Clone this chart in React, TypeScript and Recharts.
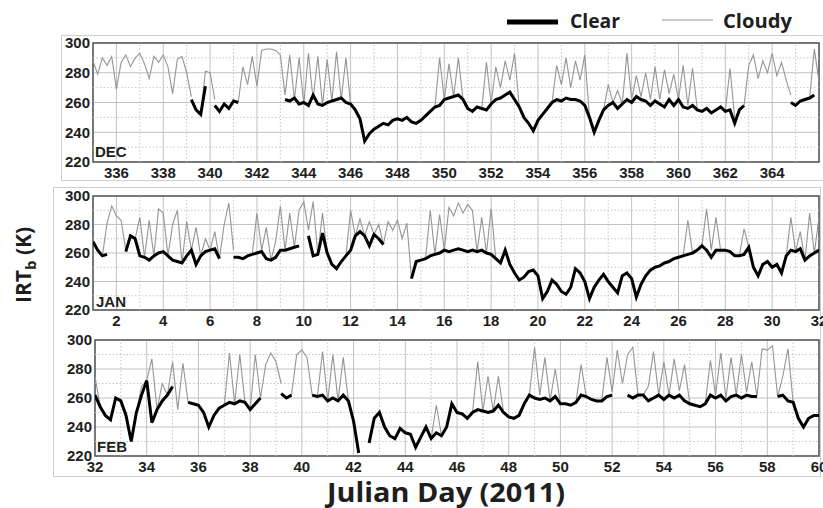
import React from 'react';
import { LineChart, Line, XAxis, YAxis, CartesianGrid, ReferenceLine, ReferenceArea } from 'recharts';

const _ = null;
const STEP = 0.2; // days between samples

// ---------- DEC (day 335.0 .. 366.0) ----------
const decStart = 335;
const decClear = [
  _, _, _, _, _, // 335
  _, _, _, _, _, // 336
  _, _, _, _, _, // 337
  _, _, _, _, _, // 338
  _, 262, 255, 252, 271, // 339
  _, 258, 254, 259, 256, // 340
  261, 260, _, _, _, // 341
  _, _, _, _, _, // 342
  _, 262, 261, 263, 259, // 343
  260, 258, 265, 259, 258, // 344
  260, 261, 262, 263, 260, // 345
  259, 255, 249, 234, 239, // 346
  242, 244, 246, 245, 248, // 347
  249, 248, 250, 247, 246, // 348
  248, 251, 254, 257, 258, // 349
  262, 263, 264, 265, 262, // 350
  256, 254, 257, 256, 255, // 351
  259, 262, 263, 265, 267, // 352
  262, 257, 250, 246, 241, // 353
  248, 252, 256, 260, 262, // 354
  261, 263, 262, 262, 261, // 355
  258, 250, 240, 248, 255, // 356
  258, 260, 256, 259, 262, // 357
  260, 264, 262, 261, 258, // 358
  261, 259, 257, 262, 258, // 359
  262, 257, 256, 258, 255, // 360
  254, 256, 253, 255, 257, // 361
  254, 255, 246, 255, 258, // 362
  _, _, _, _, _, // 363
  _, _, _, _, 260, // 364
  258, 261, 262, 263, 265, // 365
  _, // 366
];
const decCloudy = [
  288, 279, 290, 285, 291, // 335
  269, 287, 292, 284, 290, // 336
  293, 286, 276, 291, 287, // 337
  292, 284, 266, 289, 291, // 338
  280, 264, _, 252, 281, // 339
  280, 262, _, _, _, // 340
  _, 260, 284, 272, 291, // 341
  271, 295, 296, 296, 295, // 342
  292, 265, 292, 262, 290, // 343
  259, 293, 262, 291, 258, // 344
  289, 261, 294, 262, 290, // 345
  259, _, _, _, _, // 346
  _, _, _, _, _, // 347
  _, _, _, _, _, // 348
  _, _, _, 257, 290, // 349
  262, 286, 264, 290, 262, // 350
  _, _, _, 256, 287, // 351
  259, 284, 270, 288, 275, // 352
  293, 257, _, _, _, // 353
  _, _, _, 260, 285, // 354
  272, 290, 270, 288, 275, // 355
  292, 250, _, _, 255, // 356
  272, 260, 268, 259, 293, // 357
  262, 278, 264, 280, 262, // 358
  284, 262, 282, 266, 279, // 359
  262, 285, 258, 283, 256, // 360
  _, _, _, _, _, // 361
  254, 283, 250, _, 258, // 362
  285, 292, 276, 288, 280, // 363
  293, 278, 287, 275, 265, // 364
  _, _, _, 263, 296, // 365
  274, // 366
];

// ---------- JAN (day 1.0 .. 32.0) ----------
const janStart = 1;
const janClear = [
  268, 262, 258, 259, _, // 1
  _, _, 261, 272, 270, // 2
  258, 257, 255, 258, 260, // 3
  261, 258, 255, 254, 253, // 4
  258, 262, 252, 258, 261, // 5
  262, 263, 256, _, _, // 6
  257, 257, 256, 258, 259, // 7
  260, 261, 256, 255, 257, // 8
  262, 262, 263, 264, 265, // 9
  _, 272, 258, 259, 274, // 10
  260, 252, 249, 254, 258, // 11
  262, 272, 275, 272, 265, // 12
  273, 270, 266, _, _, // 13
  _, _, _, 242, 254, // 14
  255, 256, 258, 259, 260, // 15
  262, 261, 262, 263, 262, // 16
  261, 262, 261, 262, 260, // 17
  259, 256, 253, 262, 252, // 18
  246, 241, 243, 247, 248, // 19
  244, 228, 233, 241, 238, // 20
  233, 231, 236, 249, 246, // 21
  240, 228, 236, 241, 245, // 22
  240, 236, 232, 244, 246, // 23
  242, 229, 238, 244, 248, // 24
  250, 251, 253, 254, 256, // 25
  257, 258, 259, 260, 262, // 26
  265, 262, 257, 262, 262, // 27
  262, 261, 258, 258, 259, // 28
  264, 250, 244, 252, 254, // 29
  250, 252, 246, 258, 262, // 30
  261, 263, 255, 258, 260, // 31
  262, // 32
];
const janCloudy = [
  _, _, 258, 281, 293, // 1
  286, 283, 262, _, 270, // 2
  285, 257, 283, 258, 291, // 3
  288, 258, 280, 290, 253, // 4
  282, 262, 278, 258, 270, // 5
  262, 275, 256, 280, 295, // 6
  262, _, _, _, 259, // 7
  288, 262, 278, 255, 268, // 8
  293, 262, 288, 264, 290, // 9
  296, 276, 296, 259, 288, // 10
  260, _, _, _, 258, // 11
  290, 272, 284, 272, 282, // 12
  273, 280, 266, 282, 276, // 13
  283, 270, 281, 242, _, // 14
  _, 256, 290, 259, 287, // 15
  262, 292, 286, 295, 288, // 16
  294, 290, 261, 285, 260, // 17
  291, 256, _, _, _, // 18
  _, _, _, _, _, // 19
  _, _, _, _, _, // 20
  _, _, _, _, _, // 21
  _, _, _, _, _, // 22
  _, _, _, _, _, // 23
  _, _, _, _, _, // 24
  _, _, _, _, _, // 25
  _, 258, 283, 260, _, // 26
  265, 291, 262, 285, 262, // 27
  _, _, _, 258, 277, // 28
  264, _, _, _, _, // 29
  _, _, _, 258, 285, // 30
  261, 275, 255, 288, 260, // 31
  285, // 32
];

// ---------- FEB (day 32.0 .. 60.0) ----------
const febStart = 32;
const febClear = [
  262, 254, 248, 245, 260, // 32
  258, 248, 230, 250, 262, // 33
  272, 243, 252, 258, 262, // 34
  268, _, _, 257, 256, // 35
  255, 250, 240, 248, 253, // 36
  255, 257, 256, 258, 257, // 37
  252, 256, 260, _, _, // 38
  _, 263, 260, 262, _, // 39
  _, _, 262, 261, 262, // 40
  258, 260, 258, 262, 258, // 41
  244, 222, _, 229, 246, // 42
  250, 240, 234, 232, 239, // 43
  236, 235, 226, 233, 240, // 44
  232, 236, 234, 240, 256, // 45
  250, 249, 246, 250, 252, // 46
  251, 250, 251, 255, 250, // 47
  247, 246, 248, 256, 262, // 48
  260, 259, 260, 258, 261, // 49
  256, 256, 255, 257, 262, // 50
  261, 259, 258, 258, 261, // 51
  262, _, _, 262, 260, // 52
  262, 262, 258, 260, 262, // 53
  259, 262, 260, 262, 258, // 54
  256, 255, 254, 256, 262, // 55
  260, 262, 258, 261, 262, // 56
  260, 262, 261, 261, _, // 57
  _, _, 261, 262, 258, // 58
  257, 246, 240, 246, 248, // 59
  248, // 60
];
const febCloudy = [
  275, 254, _, _, _, // 32
  _, _, _, 250, 268, // 33
  272, 287, 252, 270, 262, // 34
  285, 252, 284, 257, _, // 35
  _, _, _, _, _, // 36
  255, 291, 256, 290, 257, // 37
  252, 290, 260, 283, 291, // 38
  285, 270, _, 262, 290, // 39
  293, 288, 262, 261, 292, // 40
  258, 290, 258, 288, 258, // 41
  _, _, _, _, _, // 42
  _, _, _, _, _, // 43
  _, _, _, _, _, // 44
  232, 255, 234, _, _, // 45
  _, _, _, 250, 285, // 46
  251, 275, 251, 275, 250, // 47
  _, _, _, _, 262, // 48
  295, 262, 288, 258, 280, // 49
  256, _, _, 257, 283, // 50
  261, _, _, 258, 288, // 51
  264, 293, 270, 290, 295, // 52
  262, 262, 268, 292, 262, // 53
  285, 262, 287, 265, 283, // 54
  256, _, _, 256, 286, // 55
  262, 291, 260, 288, 262, // 56
  290, 264, 285, 261, 294, // 57
  293, 296, 261, 275, 294, // 58
  257, _, _, _, _, // 59
  _, // 60
];

const yTicks = [220, 240, 260, 280, 300];
const yMinor = [230, 250, 270, 290];
const decTicks = [336, 338, 340, 342, 344, 346, 348, 350, 352, 354, 356, 358, 360, 362, 364];
const decMinor = [337, 339, 341, 343, 345, 347, 349, 351, 353, 355, 357, 359, 361, 363, 365];
const janTicks = [2, 4, 6, 8, 10, 12, 14, 16, 18, 20, 22, 24, 26, 28, 30, 32];
const janMinor = [3, 5, 7, 9, 11, 13, 15, 17, 19, 21, 23, 25, 27, 29, 31];
const febTicks = [32, 34, 36, 38, 40, 42, 44, 46, 48, 50, 52, 54, 56, 58, 60];
const febMinor = [33, 35, 37, 39, 41, 43, 45, 47, 49, 51, 53, 55, 57, 59];

function buildRows(start: number, clear: (number | null)[], cloudy: (number | null)[]) {
  return clear.map((c, i) => ({
    day: Math.round((start + i * STEP) * 10) / 10,
    clear: c,
    cloudy: cloudy[i],
  }));
}

const tickFont = {
  fill: '#1e1e1e',
  fontSize: 15,
  fontWeight: 700,
  fontFamily: '"Liberation Sans", Arial, sans-serif',
};

type PanelProps = {
  rows: any[];
  domain: [number, number];
  ticks: number[];
  minor: number[];
  top: number;
  height: number;
  marginTop: number;
  yWidth: number;
};

function Panel({ rows, domain, ticks, minor, top, height, marginTop, yWidth }: PanelProps) {
  return (
    <div style={{ position: 'absolute', left: 50, top }}>
      <LineChart width={773} height={height} data={rows} margin={{ top: marginTop, right: 4, bottom: 0, left: 0 }}>
        <CartesianGrid stroke="#c2c2c2" strokeWidth={1} />
        {minor.map((d) => (
          <ReferenceLine key={'mx' + d} x={d} stroke="#c6c6c6" strokeDasharray="1.5 2" />
        ))}
        {yMinor.map((v) => (
          <ReferenceLine key={'my' + v} y={v} stroke="#c6c6c6" strokeDasharray="1.5 2" />
        ))}
        <XAxis
          dataKey="day"
          type="number"
          domain={domain}
          ticks={ticks}
          interval={0}
          allowDataOverflow
          tickSize={0}
          tickMargin={5}
          axisLine={false}
          tick={tickFont}
          height={20}
        />
        <YAxis
          domain={[220, 300]}
          ticks={yTicks}
          interval={0}
          allowDataOverflow
          width={yWidth}
          tickSize={0}
          tickMargin={3}
          axisLine={false}
          tick={tickFont}
        />
        <Line
          dataKey="cloudy"
          type="linear"
          stroke="#959595"
          strokeWidth={1.1}
          dot={false}
          connectNulls={false}
          isAnimationActive={false}
        />
        <Line
          dataKey="clear"
          type="linear"
          stroke="#000000"
          strokeWidth={3}
          dot={false}
          connectNulls={false}
          isAnimationActive={false}
        />
        <ReferenceArea
          x1={domain[0]}
          x2={domain[1]}
          y1={220}
          y2={300}
          fill="none"
          fillOpacity={0}
          stroke="#555555"
          strokeWidth={1.5}
          ifOverflow="visible"
        />
      </LineChart>
    </div>
  );
}

const labelStyle: React.CSSProperties = {
  position: 'absolute',
  fontFamily: '"Liberation Sans", Arial, sans-serif',
  fontWeight: 700,
  fontSize: 15,
  color: '#1e1e1e',
  lineHeight: '15px',
};

export default function App() {
  const decRows = buildRows(decStart, decClear, decCloudy);
  const janRows = buildRows(janStart, janClear, janCloudy);
  const febRows = buildRows(febStart, febClear, febCloudy);
  return (
    <div style={{ position: 'absolute', left: 0, top: 0, width: 823, height: 508, background: '#fff', overflow: 'hidden' }}>
      {/* outer boxes */}
      <div style={{ position: 'absolute', left: 61, top: 35, width: 780, height: 144, border: '1px solid #cfcfcf' }} />
      <div style={{ position: 'absolute', left: 53, top: 187, width: 766, height: 288, border: '1px solid #cfcfcf' }} />

      <Panel rows={decRows} domain={[335, 366]} ticks={decTicks} minor={decMinor} top={28} height={154} marginTop={15} yWidth={43} />
      <Panel rows={janRows} domain={[1, 32]} ticks={janTicks} minor={janMinor} top={180} height={150} marginTop={16} yWidth={43} />
      <Panel rows={febRows} domain={[32, 60]} ticks={febTicks} minor={febMinor} top={326} height={150} marginTop={14} yWidth={45} />

      <div style={{ ...labelStyle, left: 95, top: 144 }}>DEC</div>
      <div style={{ ...labelStyle, left: 96, top: 294 }}>JAN</div>
      <div style={{ ...labelStyle, left: 97, top: 439 }}>FEB</div>

      <svg width={823} height={508} style={{ position: 'absolute', left: 0, top: 0, pointerEvents: 'none' }}>
        {/* legend */}
        <line x1={507} y1={22} x2={558} y2={22} stroke="#000" strokeWidth={5} />
        <text x={570} y={28} fontFamily='"Open Sans", sans-serif' fontWeight={700} fontSize={20} fill="#1e1e1e" textLength={50} lengthAdjust="spacingAndGlyphs">Clear</text>
        <line x1={662} y1={20} x2={713} y2={20} stroke="#c8c8c8" strokeWidth={2} />
        <text x={723} y={28} fontFamily='"Open Sans", sans-serif' fontWeight={700} fontSize={20} fill="#1e1e1e" textLength={69} lengthAdjust="spacingAndGlyphs">Cloudy</text>
        {/* y label */}
        <text
          transform="translate(31,265) rotate(-90)"
          textAnchor="middle"
          fontFamily='"Open Sans", sans-serif'
          fontWeight={700}
          fontSize={21}
          fill="#1e1e1e"
        >
          IRT<tspan fontSize={15} dy={5}>b</tspan><tspan dy={-5}> (K)</tspan>
        </text>
        {/* x title */}
        <text
          x={446}
          y={502}
          textAnchor="middle"
          fontFamily='"Open Sans", sans-serif'
          fontWeight={700}
          fontSize={26}
          fill="#1e1e1e"
          textLength={238}
          lengthAdjust="spacingAndGlyphs"
        >
          Julian Day (2011)
        </text>
      </svg>
    </div>
  );
}
